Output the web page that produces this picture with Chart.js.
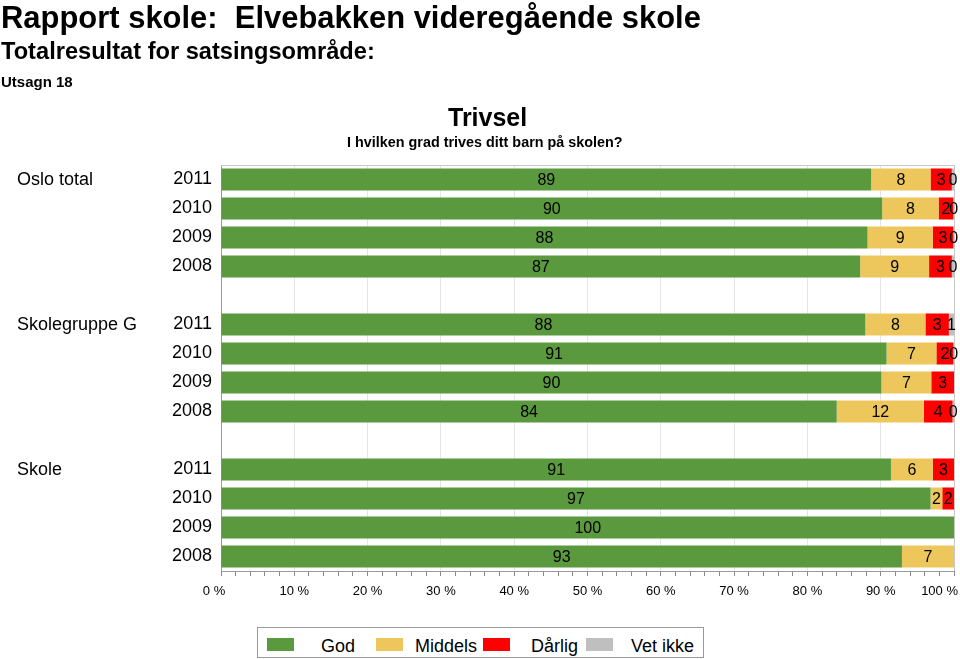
<!DOCTYPE html>
<html>
<head>
<meta charset="utf-8">
<script src="https://cdn.jsdelivr.net/npm/chart.js@4/dist/chart.umd.min.js"></script>
<style>
  body { margin: 0; background: #fff; font-family: "Liberation Sans", Arial, sans-serif; }
  #wrap { position: relative; width: 960px; height: 659px; overflow: hidden; }
  #chart { position: absolute; left: 0; top: 0; }
  .txt { position: absolute; white-space: nowrap; font-weight: bold; color: #000; line-height: 1; transform-origin: 0 0; }
  #legend { position: absolute; left: 257px; top: 627px; width: 445px; height: 29px; border: 1px solid #999; background: #fff; }
  #legend .sw { position: absolute; top: 10px; width: 27px; height: 13px; }
  #legend .lb { position: absolute; top: 9px; font-size: 18px; line-height: 1; color: #000; white-space: nowrap; }
</style>
</head>
<body>
<div id="wrap">
  <canvas id="chart" width="960" height="659"></canvas>
  <div class="txt" style="left:1px;top:1px;font-size:32px" data-w="700">Rapport skole:&nbsp; Elvebakken videregående skole</div>
  <div class="txt" style="left:1px;top:40px;font-size:23px" data-w="374">Totalresultat for satsingsområde:</div>
  <div class="txt" style="left:1px;top:74px;font-size:15px" data-w="72">Utsagn 18</div>
  <div class="txt" style="left:448px;top:105px;font-size:25px" data-w="79">Trivsel</div>
  <div class="txt" style="left:347px;top:134px;font-size:15px" data-w="276">I hvilken grad trives ditt barn på skolen?</div>
  <div id="legend"></div>
</div>
<script>
// Chart data
const groups = ['Oslo total', 'Skolegruppe G', 'Skole']
const years = ['2011', '2010', '2009', '2008']
const seriesNames = ['God', 'Middels', 'Dårlig', 'Vet ikke']
const god     = [88.7, 90.2, 88.2, 87.2, null, 87.9, 90.8, 90.1, 84.0, null, 91.4, 96.8, 100, 92.9]
const middels = [8.1, 7.7, 8.9, 9.4, null, 8.2, 6.8, 6.8, 11.9, null, 5.7, 1.6, 0, 7.1]
const darlig  = [2.9, 2.0, 2.8, 3.1, null, 3.2, 2.3, 3.1, 3.9, null, 2.9, 1.6, 0, 0]
const vetIkke = [0.3, 0.1, 0.1, 0.3, null, 0.7, 0.1, 0, 0.2, null, 0, 0, 0, 0]
const xTickLabels = [0, 10, 20, 30, 40, 50, 60, 70, 80, 90, 100]

const colors = ['#5B993E', '#EEC75C', '#FF0000', '#BFBFBF']
const fontFamily = '"Liberation Sans", Arial, sans-serif'

// one blank row between groups
const rowLabels = groups.flatMap((g, i) => (i ? [''].concat(years) : years))
const values = [god, middels, darlig, vetIkke]

// squeeze header texts to the narrow look of the original
document.querySelectorAll('.txt').forEach((el) => {
  const s = Number(el.dataset.w) / el.offsetWidth
  el.style.transform = `scaleX(${s})`
})

// legend
const legend = document.getElementById('legend')
const swatchX = [9, 118, 225, 328]
const textX = [63, 157, 273, 373]
seriesNames.forEach((name, i) => {
  const sw = document.createElement('div')
  sw.className = 'sw'
  sw.style.left = swatchX[i] + 'px'
  sw.style.background = colors[i]
  legend.appendChild(sw)
  const lb = document.createElement('div')
  lb.className = 'lb'
  lb.style.left = textX[i] + 'px'
  lb.textContent = name
  legend.appendChild(lb)
})

// value labels centred in each segment
const segmentLabels = {
  id: 'segmentLabels',
  afterDatasetsDraw(chart) {
    const ctx = chart.ctx
    ctx.save()
    ctx.font = '16px ' + fontFamily
    ctx.fillStyle = '#000'
    ctx.textAlign = 'center'
    ctx.textBaseline = 'middle'
    chart.data.datasets.forEach((ds, di) => {
      const meta = chart.getDatasetMeta(di)
      meta.data.forEach((bar, i) => {
        const v = ds.data[i]
        if (!v) return
        ctx.fillText(String(Math.round(v)), (bar.x + bar.base) / 2, bar.y + 1)
      })
    })
    ctx.restore()
  }
}

// group names on the far left
const groupNames = {
  id: 'groupNames',
  afterDraw(chart) {
    const ctx = chart.ctx
    const yScale = chart.scales.y
    ctx.save()
    ctx.font = '18px ' + fontFamily
    ctx.fillStyle = '#000'
    ctx.textAlign = 'left'
    ctx.textBaseline = 'middle'
    groups.forEach((g, i) => {
      ctx.fillText(g, 17, yScale.getPixelForValue(i * (years.length + 1)) + 1)
    })
    ctx.restore()
  }
}

// thin frame on top and right of the plot, and keep end tick labels inside
const plotFrame = {
  id: 'plotFrame',
  beforeDraw(chart) {
    const items = chart.scales.x.getLabelItems()
    items.forEach((it) => {
      if (it.label === '0 %') it.options.translation[0] -= 7
      if (it.label === '100 %') {
        it.options.translation[0] = 958
        it.options.textAlign = 'right'
      }
    })
  },
  beforeDatasetsDraw(chart) {
    const { ctx, chartArea: a } = chart
    ctx.save()
    ctx.strokeStyle = '#c8c8c8'
    ctx.lineWidth = 1
    ctx.beginPath()
    ctx.moveTo(a.left, a.top + 0.5)
    ctx.lineTo(a.right + 0.5, a.top + 0.5)
    ctx.lineTo(a.right + 0.5, a.bottom)
    ctx.stroke()
    ctx.restore()
  }
}

new Chart(document.getElementById('chart').getContext('2d'), {
  type: 'bar',
  data: {
    labels: rowLabels,
    datasets: seriesNames.map((name, i) => ({
      label: name,
      data: values[i],
      backgroundColor: colors[i],
      borderWidth: 0,
      barPercentage: 0.76,
      categoryPercentage: 1
    }))
  },
  options: {
    indexAxis: 'y',
    responsive: false,
    animation: false,
    layout: { padding: { top: 165, right: 6, left: 0, bottom: 0 } },
    plugins: {
      legend: { display: false },
      tooltip: { enabled: false }
    },
    scales: {
      x: {
        stacked: true,
        min: 0,
        max: 100,
        afterFit: (s) => {
          s.height = 88
          s.paddingLeft = 0
          s.paddingRight = 0
        },
        border: { color: '#999' },
        grid: {
          color: (c) => (c.tick && xTickLabels.includes(c.tick.value) ? '#e4e4e4' : 'rgba(0,0,0,0)'),
          tickColor: '#888',
          tickLength: 5
        },
        ticks: {
          stepSize: 2,
          autoSkip: false,
          maxRotation: 0,
          color: '#000',
          padding: 8,
          font: { size: 13, family: fontFamily },
          callback: (v) => (xTickLabels.includes(v) ? v + ' %' : '')
        }
      },
      y: {
        stacked: true,
        afterFit: (s) => { s.width = 221 },
        border: { color: '#999' },
        grid: { display: false },
        ticks: {
          autoSkip: false,
          color: '#000',
          padding: 1,
          font: { size: 18, family: fontFamily }
        }
      }
    }
  },
  plugins: [plotFrame, segmentLabels, groupNames]
})
</script>
</body>
</html>
